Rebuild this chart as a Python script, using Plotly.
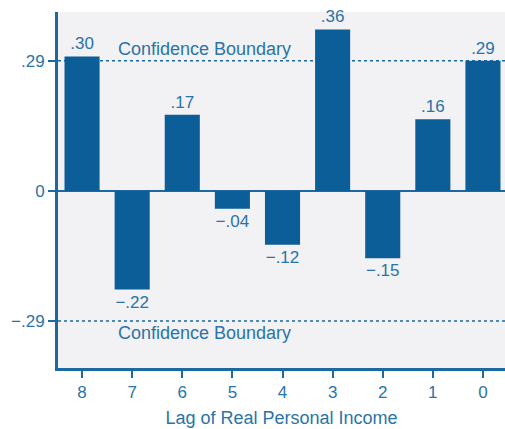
import plotly.graph_objects as go

lags = ["8", "7", "6", "5", "4", "3", "2", "1", "0"]
values = [0.30, -0.22, 0.17, -0.04, -0.12, 0.36, -0.15, 0.16, 0.29]
value_labels = [".30", "\u2212.22", ".17", "\u2212.04", "\u2212.12", ".36", "\u2212.15", ".16", ".29"]
boundary = 0.29
y_tick_vals = [0.29, 0.0, -0.29]
y_tick_text = [".29", "0", "\u2212.29"]
x_title = "Lag of Real Personal Income"
boundary_label = "Confidence Boundary"

BAR = "#0c5e98"
TXT = "#2a74a8"
AX = "#1c68a0"
FONT = "Liberation Sans, Arial, Helvetica, sans-serif"

x_pos = list(range(len(lags)))

fig = go.Figure()
fig.add_trace(go.Bar(
    x=x_pos, y=values, width=0.7,
    marker=dict(color=BAR, line=dict(width=0)),
    text=value_labels, textposition="outside",
    textfont=dict(family=FONT, size=17, color=TXT),
    cliponaxis=False, hoverinfo="skip",
))

for yv in (boundary, -boundary):
    fig.add_shape(type="line", xref="paper", yref="y", x0=0, x1=1, y0=yv, y1=yv,
                  line=dict(color=AX, width=1.5, dash="dot"), layer="below")

fig.add_annotation(x=2.45, y=boundary, xref="x", yref="y", text=boundary_label,
                   showarrow=False, yanchor="bottom", yshift=0,
                   font=dict(family=FONT, size=18, color=TXT))
fig.add_annotation(x=2.45, y=-boundary, xref="x", yref="y", text=boundary_label,
                   showarrow=False, yanchor="top", yshift=0,
                   font=dict(family=FONT, size=18, color=TXT))

fig.update_layout(
    width=505, height=429,
    margin=dict(l=58, r=0, t=12, b=61),
    paper_bgcolor="white", plot_bgcolor="#f2f1f4",
    showlegend=False,
    font=dict(family=FONT, color=TXT),
    bargap=0.3,
)
fig.update_xaxes(
    range=[-0.48, 8.44], tickvals=x_pos, ticktext=lags,
    showline=True, linecolor=AX, linewidth=3,
    ticks="outside", ticklen=7, tickwidth=2, tickcolor=AX,
    tickfont=dict(family=FONT, size=17, color=TXT),
    showgrid=False, zeroline=False,
    title=dict(text=x_title, font=dict(family=FONT, size=18, color=TXT), standoff=10),
)
fig.update_yaxes(
    range=[-0.395, 0.399], tickvals=y_tick_vals, ticktext=y_tick_text,
    showline=True, linecolor=AX, linewidth=3,
    ticks="outside", ticklen=7, tickwidth=2, tickcolor=AX,
    tickfont=dict(family=FONT, size=17, color=TXT),
    showgrid=False, zeroline=True, zerolinecolor=AX, zerolinewidth=2,
)

fig.write_html("out.html", config={"displayModeBar": False},
               post_script="document.body.style.margin='0';document.body.style.overflow='hidden';")
